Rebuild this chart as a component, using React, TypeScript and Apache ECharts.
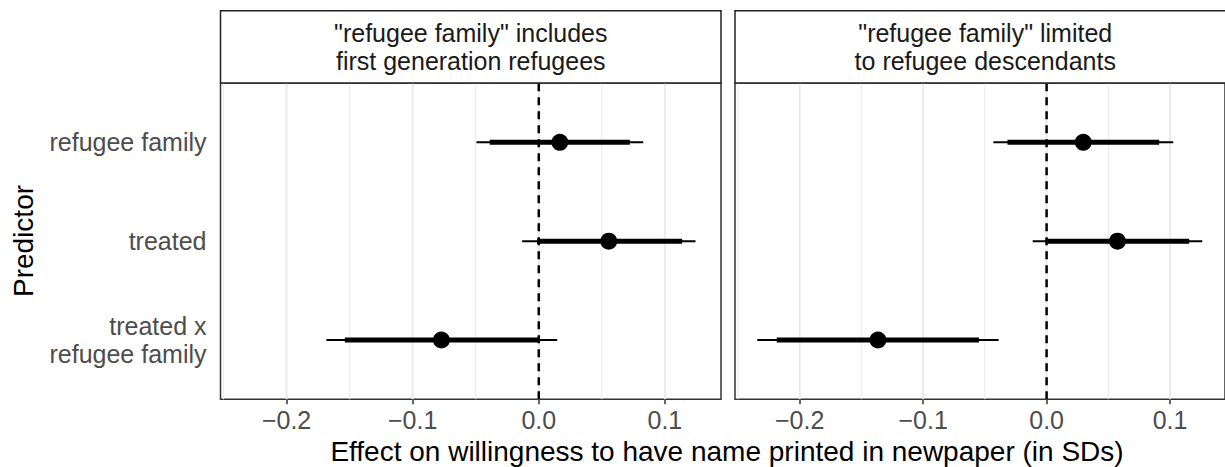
import React, { useEffect, useRef } from "react";
import * as echarts from "echarts";

// ---- data ----
const predictors = ["refugee family", "treated", "treated x\nrefugee family"];
const panelTitles = [
  ['"refugee family" includes', "first generation refugees"],
  ['"refugee family" limited', "to refugee descendants"],
];
// panel 1: "refugee family" includes first generation refugees
const est1 = [0.0167, 0.0555, -0.0772];
const low95_1 = [-0.0494, -0.0132, -0.1684];
const high95_1 = [0.0828, 0.1243, 0.0146];
const low90_1 = [-0.0389, -0.0013, -0.1538];
const high90_1 = [0.0722, 0.1137, 0.0];
// panel 2: "refugee family" limited to refugee descendants
const est2 = [0.0297, 0.0574, -0.1366];
const low95_2 = [-0.0431, -0.0113, -0.2344];
const high95_2 = [0.1026, 0.1261, -0.0389];
const low90_2 = [-0.0317, -0.0008, -0.2186];
const high90_2 = [0.0912, 0.1155, -0.0547];

const xTicks = [-0.2, -0.1, 0, 0.1];
const xMinor = [-0.25, -0.15, -0.05, 0.05];
const X_MIN = -0.2524;
const X_MAX = 0.1445;
const Y_MIN = 0.4;
const Y_MAX = 3.6;

const FONT = "'Liberation Sans', Arial, Helvetica, sans-serif";

const panels = [
  { est: est1, lo95: low95_1, hi95: high95_1, lo90: low90_1, hi90: high90_1 },
  { est: est2, lo95: low95_2, hi95: high95_2, lo90: low90_2, hi90: high90_2 },
];

const yOf = (i: number) => predictors.length - i;

const fmtX = (v: number) =>
  (v < -1e-9 ? "\u2212" : "") + Math.abs(v).toFixed(1);

export default function App() {
  const ref = useRef<HTMLDivElement>(null);
  useEffect(() => {
    if (!ref.current) return;
    const chart = echarts.init(ref.current, undefined, { renderer: "svg" });

    const gridPos = [
      { left: 220.5, top: 83, width: 500.5, height: 316.3 },
      { left: 735, top: 83, width: 500.5, height: 316.3 },
    ];

    const series: any[] = [];
    panels.forEach((p, gi) => {
      // grid lines
      const gl = [
        ...xTicks.map((v) => [v, 2]),
        ...xMinor.map((v) => [v, 1]),
      ];
      series.push({
        type: "custom",
        xAxisIndex: gi,
        yAxisIndex: gi,
        silent: true,
        z: 1,
        data: gl,
        renderItem: (params: any, api: any) => {
          const v = api.value(0);
          const w = api.value(1);
          const a = api.coord([v, Y_MIN]);
          const b = api.coord([v, Y_MAX]);
          return {
            type: "line",
            shape: { x1: a[0], y1: a[1], x2: b[0], y2: b[1] },
            style: { stroke: "#ebebeb", lineWidth: w },
          };
        },
      });
      // zero line
      series.push({
        type: "custom",
        xAxisIndex: gi,
        yAxisIndex: gi,
        silent: true,
        z: 2,
        data: [[0]],
        renderItem: (params: any, api: any) => {
          const a = api.coord([api.value(0), Y_MIN]);
          const b = api.coord([api.value(0), Y_MAX]);
          return {
            type: "line",
            shape: { x1: a[0], y1: a[1], x2: b[0], y2: b[1] },
            style: { stroke: "#000", lineWidth: 2.5, lineDash: [8, 6] },
          };
        },
      });
      // intervals
      series.push({
        type: "custom",
        xAxisIndex: gi,
        yAxisIndex: gi,
        silent: true,
        z: 3,
        data: p.est.map((_, i) => [p.lo95[i], p.hi95[i], p.lo90[i], p.hi90[i], yOf(i)]),
        encode: { x: [0, 1, 2, 3], y: 4 },
        renderItem: (params: any, api: any) => {
          const y = api.value(4);
          const a = api.coord([api.value(0), y]);
          const b = api.coord([api.value(1), y]);
          const c = api.coord([api.value(2), y]);
          const d = api.coord([api.value(3), y]);
          return {
            type: "group",
            children: [
              {
                type: "line",
                shape: { x1: a[0], y1: a[1], x2: b[0], y2: b[1] },
                style: { stroke: "#000", lineWidth: 2 },
              },
              {
                type: "line",
                shape: { x1: c[0], y1: c[1], x2: d[0], y2: d[1] },
                style: { stroke: "#000", lineWidth: 5 },
              },
            ],
          };
        },
      });
      // points
      series.push({
        type: "scatter",
        xAxisIndex: gi,
        yAxisIndex: gi,
        silent: true,
        z: 4,
        symbol: "circle",
        symbolSize: 17,
        itemStyle: { color: "#000", opacity: 1 },
        data: p.est.map((v, i) => [v, yOf(i)]),
      });
    });

    const graphic: any[] = [];
    gridPos.forEach((g, gi) => {
      graphic.push({
        type: "rect",
        shape: { x: g.left, y: 10.7, width: g.width, height: 72.3 },
        style: { fill: "#fff", stroke: "#222", lineWidth: 1.5 },
        z: 10,
      });
      panelTitles[gi].forEach((t, li) => {
        graphic.push({
          type: "text",
          x: g.left + g.width / 2,
          y: li === 0 ? 33 : 61,
          z: 11,
          style: {
            text: t,
            fontSize: 25,
            fontFamily: FONT,
            fill: "#1a1a1a",
            align: "center",
            verticalAlign: "middle",
          },
        });
      });
    });
    graphic.push({
      type: "text",
      x: 23,
      y: 241,
      rotation: Math.PI / 2,
      style: {
        text: "Predictor",
        fontSize: 28,
        fontFamily: FONT,
        fill: "#000",
        align: "center",
        verticalAlign: "middle",
      },
    });
    graphic.push({
      type: "text",
      x: 727,
      y: 451,
      style: {
        text: "Effect on willingness to have name printed in newpaper (in SDs)",
        fontSize: 28,
        fontFamily: FONT,
        fill: "#000",
        align: "center",
        verticalAlign: "middle",
      },
    });

    chart.setOption({
      animation: false,
      textStyle: { fontFamily: FONT },
      grid: gridPos.map((g) => ({
        ...g,
        show: true,
        borderColor: "#333",
        borderWidth: 1.5,
        backgroundColor: "transparent",
        containLabel: false,
      })),
      xAxis: gridPos.map((_, gi) => ({
        type: "value",
        gridIndex: gi,
        min: X_MIN,
        max: X_MAX,
        axisLine: { show: false },
        splitLine: { show: false },
        axisTick: {
          show: true,
          customValues: xTicks,
          length: 5,
          lineStyle: { color: "#333", width: 1.5 },
        },
        axisLabel: {
          customValues: xTicks,
          formatter: (v: number) => fmtX(v),
          fontSize: 25,
          color: "#4d4d4d",
          margin: 8,
          fontFamily: FONT,
        },
      })),
      yAxis: gridPos.map((_, gi) => ({
        type: "value",
        gridIndex: gi,
        min: Y_MIN,
        max: Y_MAX,
        axisLine: { show: false },
        axisTick: { show: false },
        splitLine: { show: false },
        axisLabel:
          gi === 0
            ? {
                customValues: predictors.map((_, i) => yOf(i)),
                formatter: (v: number) => predictors[predictors.length - Math.round(v)],
                fontSize: 25,
                color: "#4d4d4d",
                margin: 14,
                lineHeight: 28,
                align: "right",
                fontFamily: FONT,
              }
            : { show: false },
      })),
      series,
      graphic,
    });
    return () => chart.dispose();
  }, []);
  return (
    <div
      ref={ref}
      style={{ position: "fixed", left: 0, top: 0, width: 1225, height: 467, background: "#fff" }}
    />
  );
}
